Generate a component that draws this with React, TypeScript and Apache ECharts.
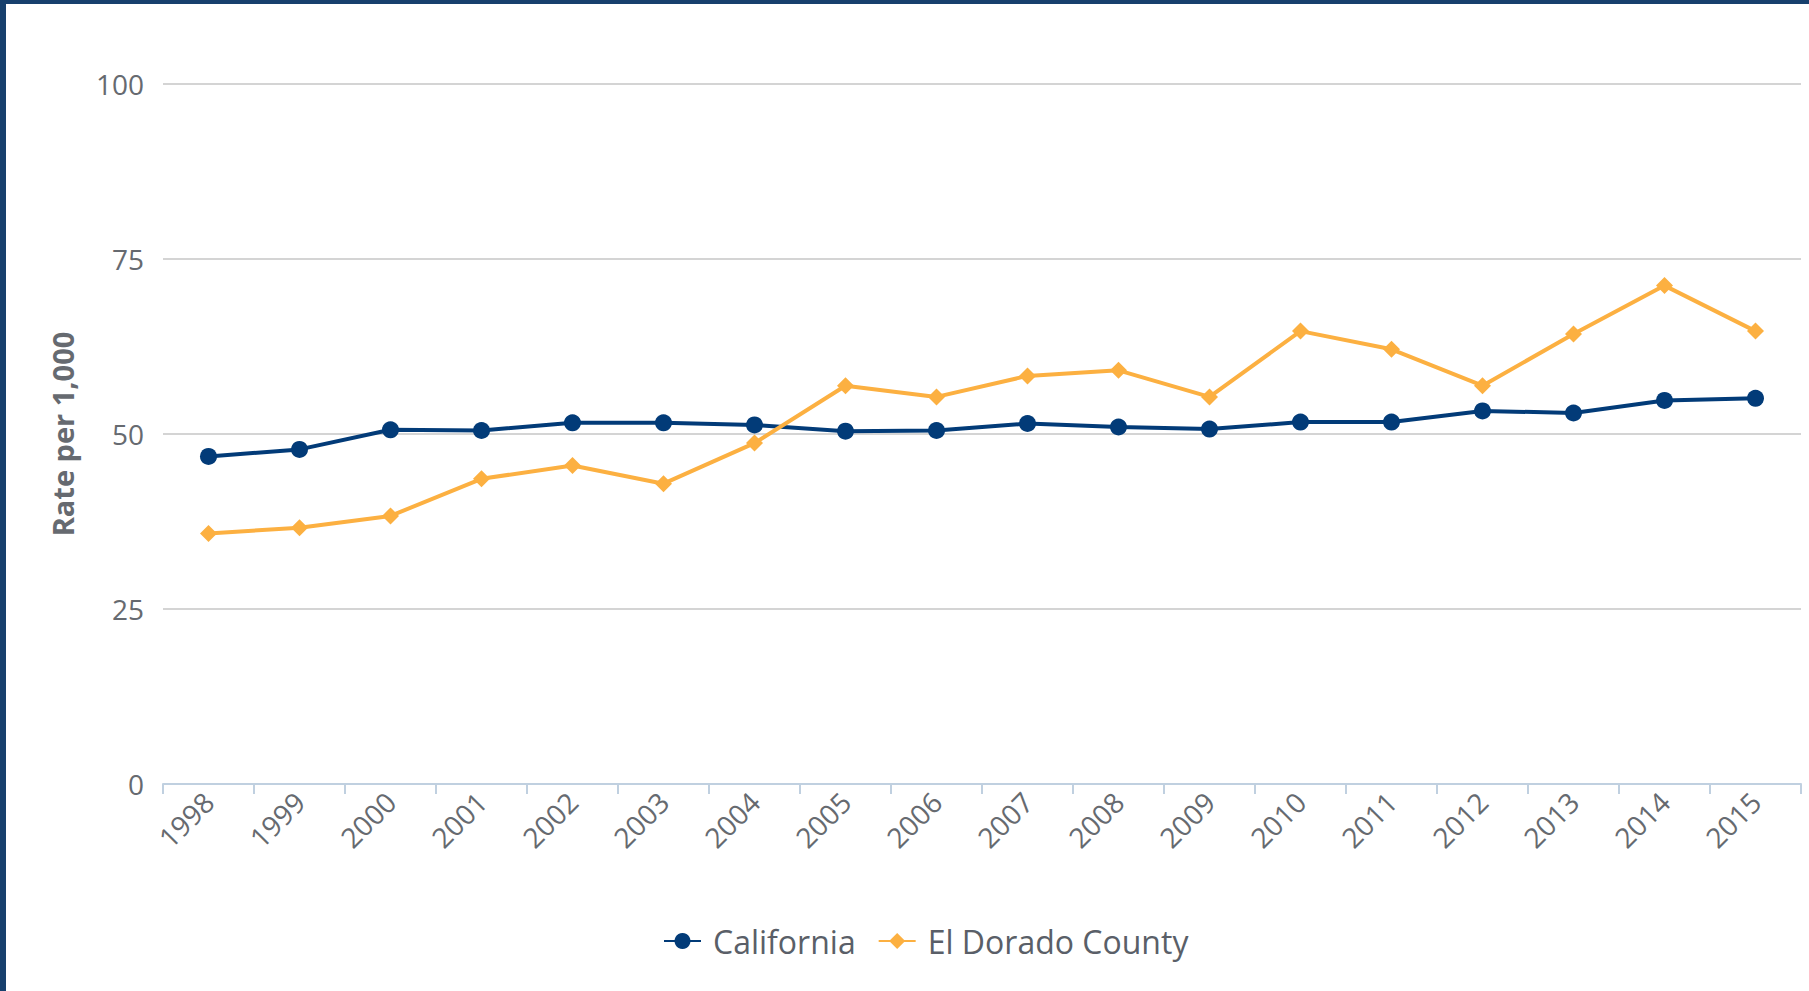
import React, { useEffect, useRef } from "react";
import * as echarts from "echarts";

const years = ["1998","1999","2000","2001","2002","2003","2004","2005","2006","2007","2008","2009","2010","2011","2012","2013","2014","2015"];
const california = [46.8, 47.8, 50.6, 50.5, 51.6, 51.6, 51.3, 50.4, 50.5, 51.5, 51.0, 50.7, 51.7, 51.7, 53.3, 53.0, 54.8, 55.1];
const elDorado = [35.8, 36.6, 38.3, 43.6, 45.5, 42.9, 48.7, 56.9, 55.3, 58.3, 59.1, 55.3, 64.7, 62.1, 56.9, 64.3, 71.2, 64.7];
const yTicks = { min: 0, max: 100, interval: 25 };

const BLUE = "#023b78";
const ORANGE = "#fcb041";
const FONT = "Open Sans";

export default function App() {
  const ref = useRef<HTMLDivElement>(null);
  useEffect(() => {
    if (!ref.current) return;
    const chart = echarts.init(ref.current, null, { renderer: "svg" });
    chart.setOption({
      animation: false,
      backgroundColor: "#ffffff",
      textStyle: { fontFamily: FONT },
      graphic: [
        { type: "rect", left: 0, top: 0, shape: { width: 1809, height: 4 }, style: { fill: "#17406d" } },
        { type: "rect", left: 0, top: 0, shape: { width: 6, height: 991 }, style: { fill: "#17406d" } },
      ],
      grid: { left: 163, right: 8, top: 84, bottom: 207, containLabel: false },
      legend: {
        top: 925,
        left: 663,
        padding: 0,
        itemWidth: 37,
        itemHeight: 20,
        itemGap: 22,
        textStyle: { fontSize: 32, color: "#5a5f68", fontFamily: FONT, padding: [0, 0, 0, 7] },
        data: ["California", "El Dorado County"],
      },
      xAxis: {
        type: "category",
        data: years,
        boundaryGap: true,
        axisLine: { lineStyle: { color: "#c0d0e0", width: 2 } },
        axisTick: { show: true, length: 10, lineStyle: { color: "#c0d0e0", width: 2 } },
        axisLabel: { rotate: 45, margin: 13, fontSize: 28, color: "#666a70", fontFamily: FONT },
        splitLine: { show: false },
      },
      yAxis: {
        type: "value",
        min: yTicks.min,
        max: yTicks.max,
        interval: yTicks.interval,
        name: "Rate per 1,000",
        nameLocation: "middle",
        nameRotate: 90,
        nameGap: 86,
        nameTextStyle: { fontSize: 29, fontWeight: "bold", color: "#666a70", fontFamily: FONT },
        axisLine: { show: false },
        axisTick: { show: false },
        axisLabel: { margin: 19, fontSize: 28, color: "#666a70", fontFamily: FONT },
        splitLine: { lineStyle: { color: "#d4d4d4", width: 2 } },
      },
      series: [
        {
          name: "California",
          type: "line",
          data: california,
          symbol: "circle",
          symbolSize: 17,
          itemStyle: { color: BLUE },
          lineStyle: { color: BLUE, width: 4 },
        },
        {
          name: "El Dorado County",
          type: "line",
          data: elDorado,
          symbol: "diamond",
          symbolSize: 17,
          itemStyle: { color: ORANGE },
          lineStyle: { color: ORANGE, width: 4 },
        },
      ],
    });
    return () => chart.dispose();
  }, []);
  return (
    <div
      ref={ref}
      style={{ position: "fixed", left: 0, top: 0, width: 1809, height: 991 }}
    />
  );
}
